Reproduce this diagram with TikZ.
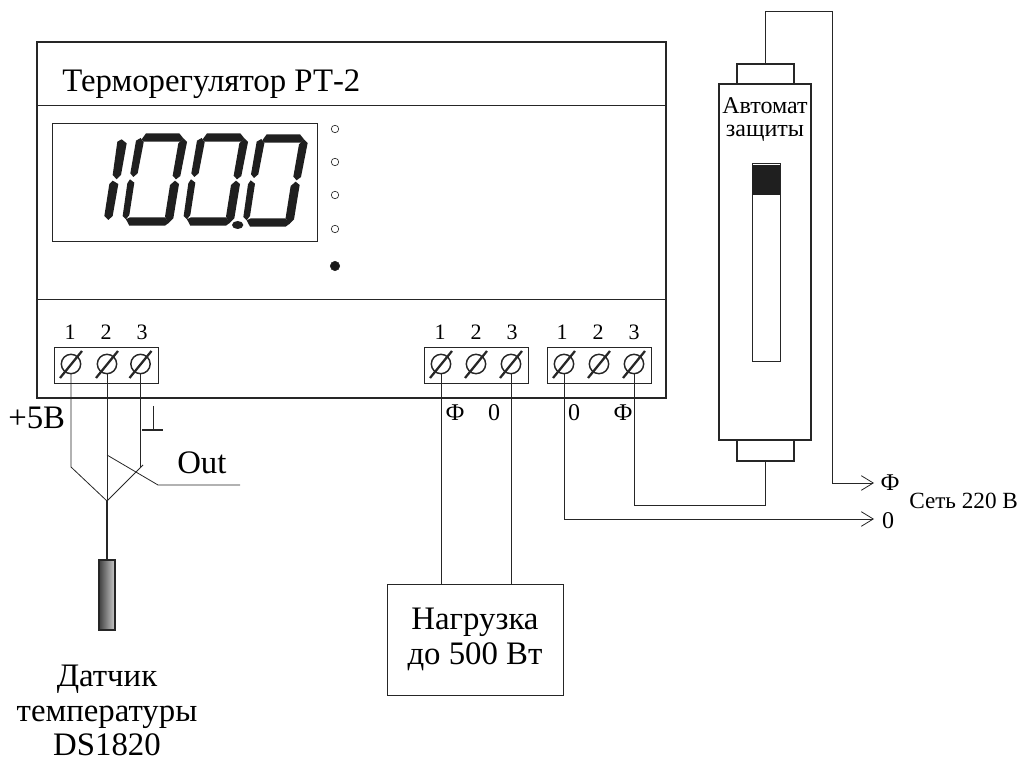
\documentclass[tikz,border=0pt]{standalone}
\usepackage{fontspec}
\setmainfont{Liberation Serif}
\usetikzlibrary{arrows.meta,positioning,shapes.geometric}
\tikzset{%
   box/.style={rectangle, inner sep=0mm, outer sep=0mm, draw=black!85, line width=.9pt},
   thinbox/.style={box, line width=.55pt},
   wire/.style={draw=black!85, line width=.6pt},
   screw/.style={circle, inner sep=0mm, outer sep=0mm, minimum size=14.5pt, draw=black!85, line width=1.1pt},
   slash/.style={draw=black!85, line width=1.7pt},
   led/.style={circle, inner sep=0mm, minimum size=5.6pt, draw=black!85, line width=.5pt},
   seg/.style={fill=black!88, draw=none},
   pin/.style={inner sep=0pt, font=\fontsize{16.5}{18}\selectfont},
   big/.style={inner sep=0pt, font=\fontsize{24.6}{26}\selectfont, align=center},
   small/.style={inner sep=0pt, font=\fontsize{18}{20}\selectfont, align=center},
   barb/.style={-{Straight Barb[length=9pt, width=11pt, line width=.6pt]}},
}
\newcommand{\segzero}{%
  \fill[seg] (305,88) -- (318,70) -- (418,70) -- (430,85) -- (420,95) -- (310,95) -- cycle;
  \fill[seg] (288,92) -- (302,84) -- (311,97) -- (293,190) -- (280,201) -- (271,190) -- cycle;
  \fill[seg] (430,85) -- (441,96) -- (421,198) -- (408,208) -- (398,197) -- (415,100) -- cycle;
  \fill[seg] (270,208) -- (283,218) -- (268,315) -- (258,328) -- (248,318) -- (262,220) -- cycle;
  \fill[seg] (405,212) -- (417,222) -- (400,325) -- (385,340) -- (375,320) -- (390,225) -- cycle;
  \fill[seg] (258,328) -- (270,322) -- (375,322) -- (387,338) -- (375,347) -- (268,347) -- cycle;
}
\begin{document}
\begin{tikzpicture}[x=.75pt, y=-.75pt]
   \useasboundingbox (0,0) rectangle (1022,762);
   % regulator case
   \node[box, minimum width=471.75pt, minimum height=267pt, anchor=north west] (reg) at (37,42) {};
   \draw[wire] (37,105) -- (666,105);
   \draw[wire] (37,299) -- (666,299);
   \node[big, anchor=west] (title) at (62,84) {Терморегулятор РТ-2};
   \node[thinbox, minimum width=198.75pt, minimum height=88.5pt, anchor=north west] (disp) at (52,123) {};
   % digits, traced in a 3x grid
   \begin{scope}[shift={(40,110)}, x=.25pt, y=-.25pt]
      \fill[seg] (232,95) -- (245,88) -- (260,100) -- (243,195) -- (230,208) -- (218,195) -- cycle;
      \fill[seg] (218,212) -- (235,222) -- (218,318) -- (205,330) -- (193,318) -- (208,222) -- cycle;
      \segzero
      \begin{scope}[shift={(183,0)}]\segzero\end{scope}
      \begin{scope}[shift={(362,3)}]\segzero\end{scope}
      \fill[seg] (593,345) ellipse (17 and 12);
   \end{scope}
   \foreach \n/\y in {1/129,2/162,3/195,4/229} {
      \node[led] (led\n) at (335,\y) {};
   }
   \node[led, fill=black!90, minimum size=7pt] (led5) at (335,266) {};
   % terminal blocks
   \foreach \b/\x/\ca/\cb/\cc/\la/\lb/\lc in {1/54/71/107/140.5/70/106/142, 2/424/441/476/511/440/476/512, 3/547/564/599/634/562/598/634} {
      \node[thinbox, minimum width=78pt, minimum height=27pt, anchor=north west] (block\b) at (\x,347) {};
      \foreach \k/\c/\l in {1/\ca/\la, 2/\cb/\lb, 3/\cc/\lc} {
         \node[screw] (s\b\k) at (\c,364) {};
         \draw[slash] ([shift={(-11,14)}]s\b\k.center) -- ([shift={(11,-13)}]s\b\k.center);
         \node[pin] (p\b\k) at (\l,332) {\k};
      }
   }
   % sensor
   \node[big, anchor=west] (plus) at (8,418) {+5В};
   \coordinate (join) at (s12.center |- 0,501);
   \coordinate (left) at (s11.center |- 0,467);
   \coordinate (right) at (s13.center |- 0,467);
   \coordinate (over) at (143,465);
   \coordinate (tap) at (s12.center |- 0,455);
   \node[big, anchor=west] (out) at (177,463) {Out};
   \coordinate (outa) at (158,485);
   \coordinate (outb) at (240,485);
   \coordinate (gnd) at (153,406);
   \coordinate (gnda) at (142,430);
   \coordinate (gndb) at (163,430);
   \draw[wire] (s11.south) -- (left) -- (join);
   \draw[wire] (s12.south) -- (join);
   \draw[wire] (s13.south) -- (right);
   \draw[wire] (join) -- (over);
   \draw[wire] (tap) -- (outa) -- (outb);
   \draw[wire] (gnd) -- (gnd |- gnda);
   \draw[wire, line width=1.2pt] (gnda) -- (gndb);
   \node[box, line width=1.3pt, minimum width=12pt, minimum height=52.5pt, anchor=north,
         left color=black!75, right color=black!20] (sensor) at (s12.center |- 0,560) {};
   \draw[wire, line width=1.5pt] (join) -- (sensor.north);
   \node[big, below=26pt of sensor] (name) {Датчик\\температуры\\DS1820};
   % load
   \node[thinbox, minimum width=132pt, minimum height=83.25pt, anchor=north west, align=center,
         font=\fontsize{24.6}{26}\selectfont] (load) at (387,584) {Нагрузка\\до 500 Вт};
   \draw[wire] (s21.south) -- (s21.south |- load.north);
   \draw[wire] (s23.south) -- (s23.south |- load.north);
   \node[small] (f2) at (455,413) {Ф};
   \node[small] (z2) at (494,413) {0};
   \node[small] (z3) at (574,413) {0};
   \node[small] (f3) at (623,413) {Ф};
   % breaker
   \node[box, minimum width=69pt, minimum height=267pt, anchor=north west] (brk) at (719,84) {};
   \node[box, minimum width=42.75pt, minimum height=15pt, anchor=south] (captop) at (765.5,84) {};
   \node[box, minimum width=42.75pt, minimum height=15.75pt, anchor=north] (capbot) at (765.5,440) {};
   \node[thinbox, minimum width=21pt, minimum height=148.5pt, anchor=north] (slot) at (766,163) {};
   \fill[black!88] (752,165) rectangle (780,195);
   \node[small, font=\fontsize{18}{17.5}\selectfont, anchor=north] (brkname) at (765,97) {Автомат\\защиты};
   % mains
   \node[small] (netf) at (890,483) {Ф};
   \node[small] (net0) at (888,521) {0};
   \node[small, font=\fontsize{17.4}{20}\selectfont, anchor=west] (net) at (909,501) {Сеть 220 В};
   \coordinate (topa) at (captop.north |- 0,11);
   \coordinate (topb) at (832,11);
   \coordinate (fend) at (874,483);
   \coordinate (zend) at (874,519);
   \coordinate (bend) at (capbot.south |- 0,505);
   \draw[wire] (captop.north) -- (topa) -- (topb);
   \draw[wire, barb] (topb) |- (fend);
   \draw[wire, barb] (s31.south) |- (zend);
   \draw[wire] (s33.south) |- (bend) -- (capbot.south);
\end{tikzpicture}
\end{document}
